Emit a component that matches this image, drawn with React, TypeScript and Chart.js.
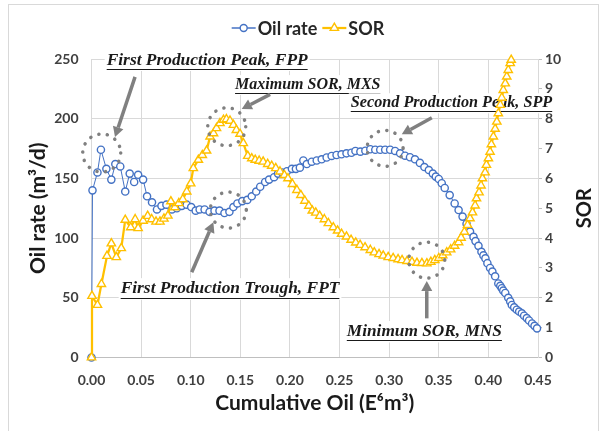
import React, { useEffect, useRef } from "react";
import { Chart, registerables } from "chart.js";

Chart.register(...registerables);

// Cumulative oil (E6m3) vs oil rate (m3/d)
const oilRatePoints: [number, number][] = [
  [0, 0], [0.001, 140], [0.006, 155], [0.0095, 174], [0.015, 158], [0.02, 149], [0.024, 162], [0.029, 160],
  [0.034, 139], [0.0385, 154], [0.043, 147], [0.047, 153], [0.052, 149], [0.056, 135], [0.061, 130], [0.066, 124],
  [0.0705, 127], [0.0755, 128], [0.081, 124], [0.086, 125], [0.091, 127], [0.096, 128], [0.1005, 126], [0.105, 123],
  [0.109, 124], [0.114, 124], [0.119, 122], [0.124, 123], [0.129, 123], [0.134, 121], [0.139, 122], [0.143, 126],
  [0.147, 129], [0.152, 131], [0.157, 132], [0.1615, 135], [0.166, 139], [0.17, 143], [0.175, 147], [0.179, 149],
  [0.184, 151], [0.188, 154], [0.192, 155], [0.197, 156], [0.202, 158], [0.206, 158], [0.21, 159], [0.2135, 165],
  [0.217, 162], [0.222, 164], [0.227, 165], [0.232, 166], [0.237, 167.5], [0.242, 168.8], [0.247, 169.6], [0.252, 170.2],
  [0.257, 171], [0.262, 171.5], [0.266, 173], [0.271, 172.4], [0.276, 173.2], [0.281, 174.4], [0.286, 174], [0.291, 174],
  [0.296, 174], [0.301, 174], [0.306, 173], [0.311, 171], [0.316, 169], [0.321, 167.7], [0.326, 166], [0.331, 163],
  [0.3355, 159.5], [0.34, 157], [0.344, 154], [0.347, 151.5], [0.35, 149.5], [0.353, 146], [0.356, 142], [0.361, 136],
  [0.366, 129], [0.37, 123.5], [0.374, 118], [0.378, 112], [0.3815, 105.5], [0.385, 101], [0.387, 97.5], [0.39, 93.5],
  [0.393, 88.5], [0.395, 85.5], [0.397, 83], [0.399, 79], [0.4017, 75], [0.404, 72], [0.4068, 68], [0.41, 62],
  [0.412, 60], [0.4135, 58], [0.415, 56], [0.417, 54], [0.42, 50], [0.422, 47], [0.4236, 44], [0.426, 42],
  [0.4286, 40], [0.431, 38.5], [0.4337, 37], [0.436, 35], [0.4387, 33], [0.441, 31], [0.444, 28.5], [0.4465, 26.5],
  [0.449, 24.4],
];

// Cumulative oil (E6m3) vs SOR
const sorPoints: [number, number][] = [
  [0, 0], [0.0005, 2.06], [0.006, 1.76], [0.01, 2.46], [0.0156, 3.4], [0.02, 3.82], [0.025, 3.36], [0.03, 3.66],
  [0.034, 4.61], [0.0395, 4.36], [0.044, 4.63], [0.047, 4.33], [0.052, 4.58], [0.0566, 4.74], [0.0607, 4.63], [0.065, 4.55],
  [0.069, 4.55], [0.073, 4.65], [0.077, 4.75], [0.08, 5.23], [0.084, 5.03], [0.088, 5.17], [0.092, 5.3], [0.096, 5.56],
  [0.1, 5.83], [0.1026, 6.34], [0.1077, 6.62], [0.1117, 6.78], [0.116, 6.93], [0.1195, 7.4], [0.123, 7.51], [0.126, 7.68],
  [0.1295, 7.85], [0.133, 7.96], [0.136, 7.98], [0.1396, 7.93], [0.143, 7.79], [0.146, 7.62], [0.1497, 7.49], [0.153, 7.18],
  [0.1575, 6.75], [0.1615, 6.67], [0.165, 6.62], [0.169, 6.59], [0.173, 6.56], [0.1776, 6.48], [0.1816, 6.42], [0.1857, 6.34],
  [0.19, 6.23], [0.1944, 6.11], [0.198, 6.0], [0.2025, 5.81], [0.207, 5.61], [0.211, 5.44], [0.215, 5.25], [0.219, 5.08],
  [0.2225, 4.92], [0.226, 4.85], [0.23, 4.74], [0.2347, 4.63], [0.2387, 4.5], [0.2437, 4.36], [0.248, 4.25], [0.252, 4.14],
  [0.257, 4.05], [0.2616, 3.94], [0.2663, 3.85], [0.2707, 3.77], [0.2757, 3.69], [0.281, 3.6], [0.285, 3.52], [0.2898, 3.46],
  [0.294, 3.41], [0.299, 3.36], [0.304, 3.33], [0.309, 3.29], [0.313, 3.26], [0.318, 3.23], [0.323, 3.2], [0.328, 3.17],
  [0.333, 3.16], [0.338, 3.15], [0.342, 3.2], [0.346, 3.26], [0.35, 3.33], [0.354, 3.42], [0.358, 3.52], [0.362, 3.62],
  [0.366, 3.74], [0.37, 3.86], [0.3725, 4.01], [0.3758, 4.21], [0.379, 4.44], [0.3815, 4.66], [0.384, 4.86], [0.3866, 5.09],
  [0.388, 5.33], [0.3906, 5.53], [0.3926, 5.76], [0.394, 6.0], [0.3967, 6.2], [0.398, 6.45], [0.4, 6.67], [0.4017, 6.89],
  [0.403, 7.14], [0.405, 7.4], [0.4068, 7.66], [0.4085, 7.9], [0.41, 8.18], [0.412, 8.46], [0.4135, 8.7], [0.415, 8.96],
  [0.417, 9.18], [0.4185, 9.41], [0.42, 9.63], [0.422, 9.86], [0.423, 9.97],
];

const seriesNames = ["Oil rate", "SOR"];
const xTitle = "Cumulative Oil (E⁶m³)";
const yTitle = "Oil rate (m³/d)";
const y1Title = "SOR";

// Annotations, in data units (x: cumulative oil, y: oil-rate axis)
const annotations = [
  { text: "First Production Peak, FPP", size: 17.4, tx: 0.0153, ty: 249, cx: 0.0103, cy: 171.3, r: 19, ax0: 0.0439, ay0: 235, ax1: 0.0237, ay1: 184.7 },
  { text: "Maximum SOR, MXS", size: 16, tx: 0.1447, ty: 228.2, cx: 0.1363, cy: 193.3, r: 19, ax0: 0.18, ay0: 220.4, ax1: 0.1514, ay1: 208.1 },
  { text: "Second Production Peak, SPP", size: 16.2, tx: 0.2613, ty: 212.9, cx: 0.2959, cy: 175.2, r: 18, ax0: 0.343, ay0: 200.8, ax1: 0.3127, ay1: 186.9 },
  { text: "First Production Trough, FPT", size: 17.4, tx: 0.0294, ty: 57.4, cx: 0.1379, cy: 123.5, r: 18, ax0: 0.101, ay0: 71.4, ax1: 0.1228, ay1: 113.2 },
  { text: "Minimum SOR, MNS", size: 17.3, tx: 0.2573, ty: 21.6, cx: 0.3379, cy: 81.5, r: 18, ax0: 0.3379, ay0: 32.8, ax1: 0.3379, ay1: 64 },
];

const BLUE = "#4472C4";
const GOLD = "#FFC000";
const GREY = "#808080";
const SANS = "Lato, 'Noto Sans', sans-serif";

function drawTriangle(ctx: CanvasRenderingContext2D, x: number, y: number, r: number) {
  let rad = 0;
  ctx.beginPath();
  ctx.moveTo(x + Math.sin(rad) * r, y - Math.cos(rad) * r);
  rad += (2 * Math.PI) / 3;
  ctx.lineTo(x + Math.sin(rad) * r, y - Math.cos(rad) * r);
  rad += (2 * Math.PI) / 3;
  ctx.lineTo(x + Math.sin(rad) * r, y - Math.cos(rad) * r);
  ctx.closePath();
}

const decorPlugin = {
  id: "decor",
  beforeDraw(chart: any) {
    const ctx = chart.ctx as CanvasRenderingContext2D;
    ctx.save();
    ctx.fillStyle = "#ffffff";
    ctx.fillRect(0, 0, chart.width, chart.height);
    ctx.restore();
  },
  beforeDatasetsDraw(chart: any) {
    const ctx = chart.ctx as CanvasRenderingContext2D;
    const xs = chart.scales.x;
    const ys = chart.scales.y;
    ctx.save();
    ctx.textBaseline = "middle";
    ctx.textAlign = "left";
    for (const a of annotations) {
      ctx.font = `italic bold ${a.size}px 'Liberation Serif', serif`;
      const x = xs.getPixelForValue(a.tx);
      const y = ys.getPixelForValue(a.ty);
      const w = ctx.measureText(a.text).width;
      const uy = Math.round(y + a.size * 0.5) + 0.5;
      ctx.fillStyle = "#ffffff";
      ctx.fillRect(x - 2, y - a.size * 0.62, w + 4, a.size * 1.24);
      ctx.fillStyle = "#1a1a1a";
      ctx.fillText(a.text, x, y);
      ctx.strokeStyle = "#1a1a1a";
      ctx.lineWidth = 1;
      ctx.beginPath();
      ctx.moveTo(x, uy);
      ctx.lineTo(x + w, uy);
      ctx.stroke();
    }
    ctx.restore();
  },
  afterDatasetsDraw(chart: any) {
    const ctx = chart.ctx as CanvasRenderingContext2D;
    const xs = chart.scales.x;
    const ys = chart.scales.y;
    ctx.save();
    for (const a of annotations) {
      const cx = xs.getPixelForValue(a.cx);
      const cy = ys.getPixelForValue(a.cy);
      ctx.strokeStyle = GREY;
      ctx.lineWidth = 3.5;
      ctx.lineCap = "round";
      ctx.setLineDash([0.1, 8.5]);
      ctx.beginPath();
      ctx.arc(cx, cy, a.r, 0, Math.PI * 2);
      ctx.stroke();
      ctx.setLineDash([]);
      const x0 = xs.getPixelForValue(a.ax0);
      const y0 = ys.getPixelForValue(a.ay0);
      const x1 = xs.getPixelForValue(a.ax1);
      const y1 = ys.getPixelForValue(a.ay1);
      const ang = Math.atan2(y1 - y0, x1 - x0);
      const hl = 10;
      const hw = 5.5;
      const bx = x1 - Math.cos(ang) * hl;
      const by = y1 - Math.sin(ang) * hl;
      ctx.lineCap = "butt";
      ctx.lineWidth = 3.5;
      ctx.beginPath();
      ctx.moveTo(x0, y0);
      ctx.lineTo(bx, by);
      ctx.stroke();
      ctx.fillStyle = GREY;
      ctx.beginPath();
      ctx.moveTo(x1, y1);
      ctx.lineTo(bx + Math.sin(ang) * hw, by - Math.cos(ang) * hw);
      ctx.lineTo(bx - Math.sin(ang) * hw, by + Math.cos(ang) * hw);
      ctx.closePath();
      ctx.fill();
    }
    ctx.restore();
  },
  afterDraw(chart: any) {
    const ctx = chart.ctx as CanvasRenderingContext2D;
    const area = chart.chartArea;
    ctx.save();
    // legend
    ctx.font = `bold 18px ${SANS}`;
    ctx.textBaseline = "middle";
    ctx.textAlign = "left";
    const markW = 24;
    const gapText = 2;
    const gapItem = 5;
    const widths = seriesNames.map((n) => ctx.measureText(n).width);
    const total = widths.reduce((s, w) => s + markW + gapText + w, 0) + gapItem;
    let lx = 308 - total / 2;
    const ly = 28;
    seriesNames.forEach((name, i) => {
      const color = i === 0 ? BLUE : GOLD;
      ctx.strokeStyle = color;
      ctx.lineWidth = i === 0 ? 1.5 : 2.25;
      ctx.beginPath();
      ctx.moveTo(lx, ly);
      ctx.lineTo(lx + markW, ly);
      ctx.stroke();
      ctx.fillStyle = "#ffffff";
      ctx.lineWidth = 1.4;
      if (i === 0) {
        ctx.beginPath();
        ctx.arc(lx + markW / 2, ly, 3.5, 0, Math.PI * 2);
      } else {
        drawTriangle(ctx, lx + markW / 2, ly, 4.8);
      }
      ctx.fill();
      ctx.stroke();
      ctx.fillStyle = "#262626";
      ctx.fillText(name, lx + markW + gapText, ly + 1);
      lx += markW + gapText + widths[i] + gapItem;
    });
    // right axis title (reads bottom to top)
    ctx.font = `bold 20px ${SANS}`;
    ctx.textAlign = "center";
    ctx.fillStyle = "#1a1a1a";
    ctx.translate(585, (area.top + area.bottom) / 2);
    ctx.rotate(-Math.PI / 2);
    ctx.fillText(y1Title, 0, 0);
    ctx.restore();
    // outer frame
    ctx.save();
    ctx.strokeStyle = "#d9d9d9";
    ctx.lineWidth = 1;
    ctx.strokeRect(8.5, 4.5, 590, 440);
    ctx.restore();
  },
};

export default function App() {
  const ref = useRef<HTMLCanvasElement>(null);
  useEffect(() => {
    const tickFont = { family: SANS, size: 14, weight: "bold" as const };
    const titleFont = { family: SANS, size: 21, weight: "bold" as const };
    const chart = new Chart(ref.current!, {
      type: "line",
      data: {
        datasets: [
          {
            label: seriesNames[0],
            data: oilRatePoints.map(([x, y]) => ({ x, y })),
            yAxisID: "y",
            borderColor: BLUE,
            borderWidth: 1,
            pointStyle: "circle",
            pointRadius: 3.6,
            pointBorderWidth: 1.4,
            pointBorderColor: BLUE,
            pointBackgroundColor: "#ffffff",
            tension: 0,
            clip: false,
            order: 1,
          },
          {
            label: seriesNames[1],
            data: sorPoints.map(([x, y]) => ({ x, y })),
            yAxisID: "y1",
            borderColor: GOLD,
            borderWidth: 2.25,
            pointStyle: "triangle",
            pointRadius: 4.8,
            pointBorderWidth: 1.4,
            pointBorderColor: GOLD,
            pointBackgroundColor: "#ffffff",
            tension: 0,
            clip: false,
            order: 0,
          },
        ],
      },
      options: {
        responsive: false,
        animation: false,
        devicePixelRatio: 1,
        layout: { padding: { left: 22, right: 0, top: 59, bottom: 0 } },
        plugins: { legend: { display: false }, tooltip: { enabled: false }, title: { display: false } },
        scales: {
          x: {
            type: "linear",
            min: 0,
            max: 0.45,
            ticks: {
              stepSize: 0.05,
              font: tickFont,
              color: "#404040",
              padding: 15,
              callback: (v: any) => Number(v).toFixed(2),
            },
            grid: { color: "#d9d9d9", drawTicks: false },
            border: { color: "#bfbfbf" },
            title: { display: true, text: xTitle, font: titleFont, color: "#1a1a1a", padding: { top: 0, bottom: 15 } },
            afterFit: (s: any) => {
              s.height = 73.5;
            },
          },
          y: {
            position: "left",
            min: 0,
            max: 250,
            ticks: { stepSize: 50, font: tickFont, color: "#404040", padding: 13 },
            grid: { color: "#d9d9d9", drawTicks: false },
            border: { display: false },
            title: { display: true, text: yTitle, font: titleFont, color: "#1a1a1a", padding: { top: 4, bottom: 4 } },
            afterFit: (s: any) => {
              s.width = 69.5;
            },
          },
          y1: {
            position: "right",
            min: 0,
            max: 10,
            ticks: { stepSize: 1, font: tickFont, color: "#404040", padding: 3 },
            grid: { drawOnChartArea: false, color: "#bfbfbf", tickLength: 4 },
            border: { display: true, color: "#d9d9d9" },
            afterFit: (s: any) => {
              s.width = 64;
            },
          },
        },
      },
      plugins: [decorPlugin],
    } as any);
    return () => chart.destroy();
  }, []);
  return (
    <div style={{ position: "absolute", left: 0, top: 0, width: 602, height: 431, background: "#fff" }}>
      <canvas ref={ref} width={602} height={431} style={{ display: "block" }} />
    </div>
  );
}
